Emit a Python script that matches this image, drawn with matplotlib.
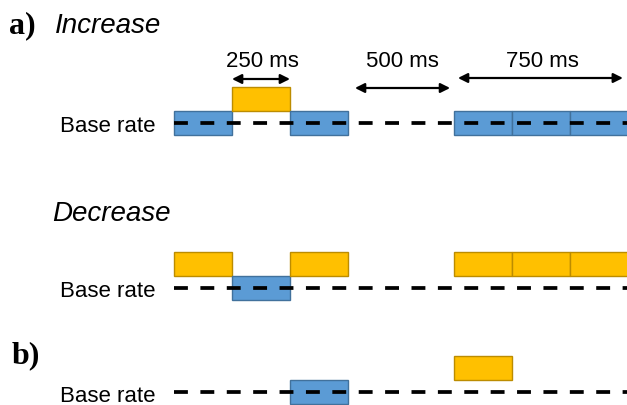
import matplotlib
matplotlib.use("Agg")
import matplotlib.pyplot as plt
from matplotlib.patches import Rectangle

# ---- data ----
slot_starts_ms = [0, 250, 500, 1205, 1455, 1705]   # schematic time slots (ms)
slot_width_ms = 250
increase_colors = ["blue", "yellow", "blue", "blue", "blue", "blue"]
increase_levels = [0, 1, 0, 0, 0, 0]
decrease_colors = ["yellow", "blue", "yellow", "yellow", "yellow", "yellow"]
decrease_levels = [1, 0, 1, 1, 1, 1]
b_slots = [2, 3]
b_colors = ["blue", "yellow"]
b_levels = [0, 1]
duration_labels = ["250 ms", "500 ms", "750 ms"]
duration_spans = [(250, 500), (780, 1190), (1224, 1935)]
row_titles = ["Increase", "Decrease"]
panel_labels = ["a)", "b)"]
base_label = "Base rate"

# ---- styling ----
W, H = 627, 406
PX0, PX_PER_MS = 174, 58 / 250.0
def px2t(px):
    return (px - PX0) / PX_PER_MS

FILL = {"blue": "#5B9BD5", "yellow": "#FFC000"}
EDGE = {"blue": "#41719C", "yellow": "#BC8C00"}
BOX_H = 24
baselines = [124, 289, 393]

fig = plt.figure(figsize=(W / 100, H / 100), dpi=100)
ax = fig.add_axes([0, 0, 1, 1])
ax.set_xlim(px2t(0), px2t(W))
ax.set_ylim(H, 0)
ax.axis("off")

def draw_box(t0, base, level, color):
    top = base - BOX_H / 2 - level * BOX_H
    ax.add_patch(Rectangle((t0, top), slot_width_ms, BOX_H, facecolor=FILL[color],
                           edgecolor=EDGE[color], linewidth=1.0, zorder=2))

for s, c, l in zip(slot_starts_ms, increase_colors, increase_levels):
    draw_box(s, baselines[0], l, c)
for s, c, l in zip(slot_starts_ms, decrease_colors, decrease_levels):
    draw_box(s, baselines[1], l, c)
for i, c, l in zip(b_slots, b_colors, b_levels):
    draw_box(slot_starts_ms[i], baselines[2], l, c)

# dashed base-rate lines
LW = 2.7
for yb in baselines:
    ln, = ax.plot([0, px2t(W + 5)], [yb, yb], color="black", linewidth=LW,
                  solid_capstyle="butt", dash_capstyle="butt", zorder=3)
    ln.set_dashes([10.0 / LW, 9.0 / LW])

# arrows + labels
arrow_y = [80, 89, 79]
text_x = [262, 402, 542]
for lab, (a, b), ay, tx in zip(duration_labels, duration_spans, arrow_y, text_x):
    ax.annotate("", xy=(b, ay), xytext=(a, ay),
                arrowprops=dict(arrowstyle="<|-|>", color="black", lw=1.6,
                                mutation_scale=14, shrinkA=0, shrinkB=0))
    ax.text(px2t(tx), 67, lab, ha="center", va="baseline", fontsize=16,
            family="Liberation Sans")

# base rate labels
for yb, bl in zip(baselines, [132, 297, 402]):
    ax.text(px2t(155), bl, base_label, ha="right", va="baseline", fontsize=16,
            family="Liberation Sans")

# titles
ax.text(px2t(55), 33, row_titles[0], ha="left", va="baseline", fontsize=20,
        style="italic", family="Liberation Sans")
ax.text(px2t(52), 221, row_titles[1], ha="left", va="baseline", fontsize=20,
        style="italic", family="Liberation Sans")
ax.text(px2t(9), 33, panel_labels[0], ha="left", va="baseline", fontsize=23,
        weight="bold", family="Liberation Serif")
ax.text(px2t(12), 363, panel_labels[1], ha="left", va="baseline", fontsize=23,
        weight="bold", family="Liberation Serif")

fig.savefig("out.png", dpi=100)
